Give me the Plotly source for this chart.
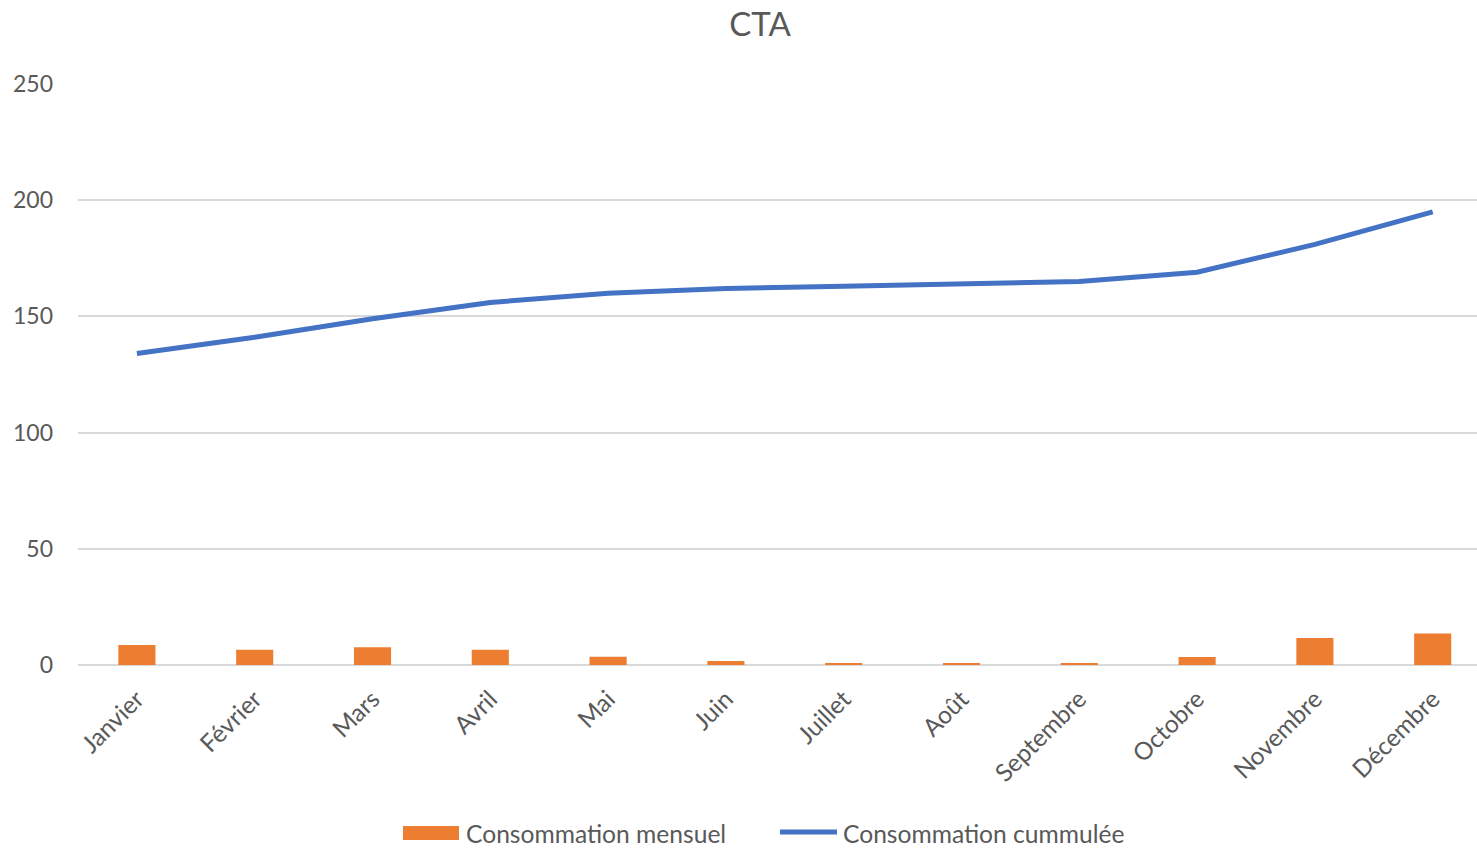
import plotly.graph_objects as go

months = ["Janvier", "Février", "Mars", "Avril", "Mai", "Juin", "Juillet",
          "Août", "Septembre", "Octobre", "Novembre", "Décembre"]
mensuel = [8.6, 6.6, 7.6, 6.6, 3.6, 1.7, 0.6, 0.6, 0.6, 3.4, 11.6, 13.6]
cumulee = [134, 141, 149, 156, 160, 162, 163, 164, 165, 169, 181, 195]
y_ticks = [0, 50, 100, 150, 200, 250]
series_names = ["Consommation mensuel", "Consommation cummulée"]
colors = ["#ED7D31", "#4472C4"]

FONT = "Lato, 'Open Sans', sans-serif"
GRAY = "#595959"
W, H = 1477, 848
L, R, T, B = 78, 0, 84, 183
PW, PH = W - L - R, H - T - B


def px_x(px):
    return (px - L) / PW


def px_y(py):
    return (H - B - py) / PH


fig = go.Figure()
fig.add_trace(go.Bar(x=months, y=mensuel, name=series_names[0],
                     marker=dict(color=colors[0], line=dict(width=0))))
fig.add_trace(go.Scatter(x=months, y=cumulee, name=series_names[1],
                         mode="lines", line=dict(color=colors[1], width=5)))

# manual legend (Excel-style wide swatches)
shapes = [
    dict(type="rect", xref="paper", yref="paper", x0=px_x(403), x1=px_x(459),
         y0=px_y(840), y1=px_y(826), fillcolor=colors[0], line=dict(width=0)),
    dict(type="line", xref="paper", yref="paper", x0=px_x(780), x1=px_x(837),
         y0=px_y(832), y1=px_y(832), line=dict(color=colors[1], width=5)),
]
annotations = [
    dict(text=series_names[0], xref="paper", yref="paper", x=px_x(464), y=px_y(833),
         xanchor="left", yanchor="middle", showarrow=False,
         font=dict(family=FONT, size=24.6, color=GRAY)),
    dict(text=series_names[1], xref="paper", yref="paper", x=px_x(841), y=px_y(833),
         xanchor="left", yanchor="middle", showarrow=False,
         font=dict(family=FONT, size=24.6, color=GRAY)),
]

fig.update_layout(
    width=W, height=H,
    paper_bgcolor="white", plot_bgcolor="white",
    margin=dict(l=L, r=R, t=T, b=B, autoexpand=False),
    title=dict(text="CTA", x=760 / W, xanchor="center", yref="container",
               y=1 - 24 / H, yanchor="middle",
               font=dict(family=FONT, size=33, color=GRAY)),
    bargap=0.685,
    font=dict(family=FONT, color=GRAY),
    showlegend=False,
    shapes=shapes,
    annotations=annotations,
)
fig.update_xaxes(type="category", range=[-0.5, 11.376], showgrid=False,
                 tickangle=-45, tickfont=dict(family=FONT, size=24.5, color=GRAY),
                 showline=False, ticks="", automargin=False, ticklabelstandoff=14)
fig.update_yaxes(range=[0, 250], tickvals=y_ticks, showgrid=True, gridcolor="#d9d9d9",
                 gridwidth=1.5, zeroline=True, zerolinecolor="#d9d9d9", zerolinewidth=2,
                 tickfont=dict(family=FONT, size=23, color=GRAY), ticks="",
                 ticklabelstandoff=24, automargin=False)

fig.write_html("out.html", config={"displayModeBar": False},
               post_script="document.body.style.margin='0';document.body.style.overflow='hidden';")
